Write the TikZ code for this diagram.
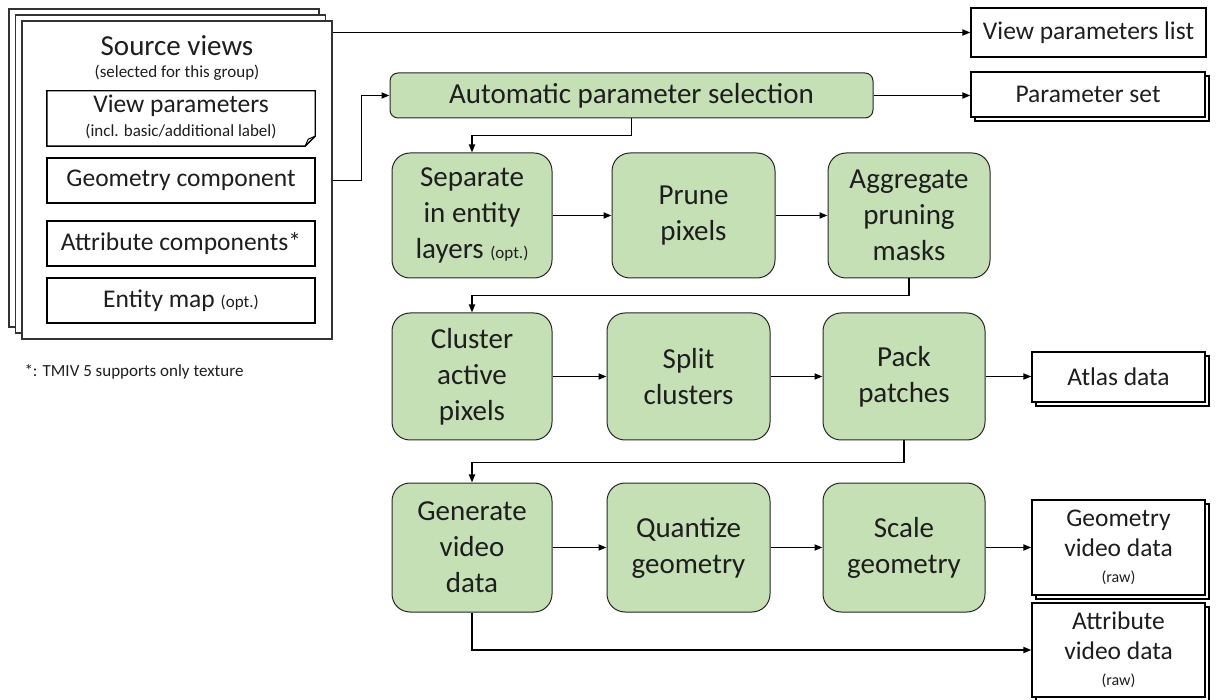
\documentclass[tikz,border=0pt]{standalone}
\usepackage{fontspec}
\setmainfont{Carlito}
\usetikzlibrary{arrows.meta,shadows,calc}
\definecolor{procgreen}{RGB}{197,224,180}
\definecolor{txt}{RGB}{30,30,30}
\newcommand{\fsz}[2]{\fontsize{#1}{#2}\selectfont}
\begin{document}
\begin{tikzpicture}[x=1pt,y=-1pt,
  proc/.style={draw=black!85, fill=procgreen, rounded corners=18pt, line width=1pt, align=center, font=\fsz{29}{36}, text=txt, inner sep=0pt},
  apsbox/.style={proc, rounded corners=8pt},
  inbox/.style={draw=black, line width=1.4pt, fill=white, align=center, font=\fsz{25.5}{30}, text=txt, inner sep=0pt},
  outbox/.style={draw=black, line width=1.2pt, fill=white, align=center, font=\fsz{25.5}{30}, text=txt, inner sep=0pt},
  stacked/.style={copy shadow={shadow xshift=4pt, shadow yshift=-4pt, draw=black, line width=1.2pt, fill=white}},
  sheets/.style={draw=black!80, line width=1.2pt, fill=white,
     copy shadow={shadow xshift=-13pt, shadow yshift=12pt, draw=black!80, line width=1.2pt, fill=white},
     copy shadow={shadow xshift=-6.5pt, shadow yshift=6pt, draw=black!80, line width=1.2pt, fill=white}},
  conn/.style={line width=1.7pt, draw=black, -{Triangle[length=8pt,width=6pt]}},
  small/.style={font=\fsz{17}{19}, text=txt},
]
\useasboundingbox (0,0) rectangle (1216,700);

% Source views stack
\node[sheets, minimum width=310pt, minimum height=318pt, inner sep=0pt] (sv) at (177,180) {};
\node[font=\fsz{29}{30}, text=txt] (svtitle) at (177,46) {Source views};
\node[small] (svsub) at (177,73) {(selected for this group)};

% View parameters (note with folded corner)
\node[minimum width=268pt, minimum height=55pt, inner sep=0pt] (vp) at (181,118.5) {};
\draw[draw=black, line width=1.4pt, fill=white]
  (vp.north west) -- (vp.north east) -- ([yshift=10pt]vp.south east)
  -- ([xshift=-10pt]vp.south east) -- (vp.south west) -- cycle;
\draw[draw=black, line width=1pt] ([xshift=-10pt]vp.south east) -- ([xshift=-7pt,yshift=7pt]vp.south east) -- ([yshift=10pt]vp.south east);
\node[font=\fsz{25.5}{28}, text=txt] (vpt) at (181,106) {View parameters};
\node[small] (vps) at (181,131) {(incl. basic/additional label)};

\node[inbox, minimum width=268pt, minimum height=45pt] (geom) at (181,180.5) {Geometry component};
\node[inbox, minimum width=268pt, minimum height=45pt] (attr) at (181,243.5) {Attribute components*};
\node[inbox, minimum width=268pt, minimum height=45pt] (ent) at (181,300.5) {Entity map {\fsz{17}{19}(opt.)}};

\node[small, anchor=west] (foot) at (21,372) {*: TMIV 5 supports only texture};

% Outputs
\node[outbox, minimum width=235pt, minimum height=49pt] (vpl) at (1088.5,32.5) {View parameters list};
\node[outbox, stacked, minimum width=234pt, minimum height=45pt] (pset) at (1088,94.5) {Parameter set};
\node[outbox, stacked, minimum width=173pt, minimum height=50pt] (atlas) at (1118.5,377) {Atlas data};
\node[outbox, stacked, minimum width=173pt, minimum height=95pt] (gvd) at (1118.5,547.5) {Geometry\\video data\\[-4pt]{\fsz{16}{17}(raw)}};
\node[outbox, stacked, minimum width=173pt, minimum height=94pt] (avd) at (1118.5,650) {Attribute\\video data\\[-4pt]{\fsz{16}{17}(raw)}};

% Process
\node[apsbox, minimum width=483pt, minimum height=45pt] (aps) at (631.5,95.5) {Automatic parameter selection};

\node[proc, minimum width=160pt, minimum height=125pt] (sep) at (472,215.5) {Separate\\in entity\\layers {\fsz{17}{19}(opt.)}};
\node[proc, minimum width=163pt, minimum height=125pt] (prune) at (693.5,215.5) {Prune\\pixels};
\node[proc, minimum width=162pt, minimum height=125pt] (agg) at (909,215.5) {Aggregate\\pruning\\masks};

\node[proc, minimum width=160pt, minimum height=127pt] (clus) at (472,376.5) {Cluster\\active\\pixels};
\node[proc, minimum width=163pt, minimum height=127pt] (split) at (688.5,376.5) {Split\\clusters};
\node[proc, minimum width=162pt, minimum height=127pt] (pack) at (904,376.5) {Pack\\patches};

\node[proc, minimum width=160pt, minimum height=129pt] (gen) at (472,547.5) {Generate\\video\\data};
\node[proc, minimum width=163pt, minimum height=129pt] (quant) at (688.5,547.5) {Quantize\\geometry};
\node[proc, minimum width=162pt, minimum height=129pt] (scale) at (904,547.5) {Scale\\geometry};

% Connectors
\draw[conn] (sv.east |- vpl.west) -- (vpl.west);
\draw[conn] (sv.east |- geom.east) -- ++(29,0) |- (aps.west);
\draw[conn] (aps.east) -- (aps.east -| pset.west);
\draw[conn] (aps.south) -- ++(0,17) -| (sep.north);
\draw[conn] (sep) -- (prune);
\draw[conn] (prune) -- (agg);
\draw[conn] (agg.south) -- ++(0,17) -| (clus.north);
\draw[conn] (clus) -- (split);
\draw[conn] (split) -- (pack);
\draw[conn] (pack.east) -- (pack.east -| atlas.west);
\draw[conn] (pack.south) -- ++(0,22) -| (gen.north);
\draw[conn] (gen) -- (quant);
\draw[conn] (quant) -- (scale);
\draw[conn] (scale.east) -- (scale.east -| gvd.west);
\draw[conn] (gen.south) |- (avd.west);
\end{tikzpicture}
\end{document}
